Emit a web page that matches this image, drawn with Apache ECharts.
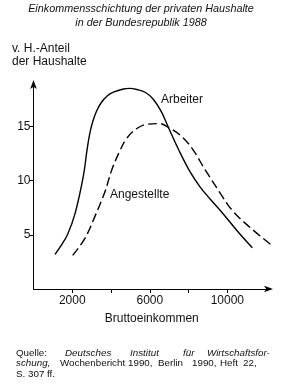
<!DOCTYPE html>
<html><head><meta charset="utf-8">
<script src="https://cdn.jsdelivr.net/npm/echarts@6/dist/echarts.min.js"></script>
<style>html,body{margin:0;padding:0;background:#fff}#c{width:282px;height:391px}</style>
</head><body><div id="c"></div>
<script>
const titleLines = ["Einkommensschichtung der privaten Haushalte", "in der Bundesrepublik 1988"];
const yAxisTitle = ["v. H.-Anteil", "der Haushalte"];
const xAxisTitle = "Bruttoeinkommen";
const xTickValues = [2000, 4000, 6000, 8000, 10000];
const xLabelValues = [2000, 6000, 10000];
const yTickValues = [5, 10, 15];
const seriesNames = ["Arbeiter", "Angestellte"];
const arbeiterIncome = [1110, 1420, 1750, 2150, 2570, 2760, 2900, 3050, 3250, 3500, 3800, 4120, 4635, 4950, 5330, 5800, 6180, 6580, 6960, 7500, 8080, 8600, 9110, 9800, 10490, 11290];
const arbeiterShare  = [3.2, 4.0, 5.0, 7.0, 10.4, 12.8, 14.3, 15.4, 16.4, 17.2, 17.8, 18.15, 18.45, 18.5, 18.4, 18.1, 17.5, 16.4, 14.9, 12.8, 10.8, 9.4, 8.3, 6.9, 5.4, 3.8];
const angestellteIncome = [2020, 2660, 3170, 3690, 4040, 4470, 4810, 5330, 5880, 6500, 6960, 7560, 8170, 8850, 9630, 10230, 11090, 12240];
const angestellteShare  = [3.1, 4.7, 6.7, 9.0, 11.0, 12.8, 13.9, 14.8, 15.2, 15.25, 14.9, 14.2, 13.0, 11.0, 8.85, 7.3, 5.8, 4.1];
const sourceLines = [
  [["Quelle:", false], ["Deutsches", true], ["Institut", true], ["für", true], ["Wirtschaftsfor-", true]],
  [["schung,", true], ["Wochenbericht", false], ["1990,", false], ["Berlin", false], ["1990,", false], ["Heft", false], ["22,", false]],
  [["S. 307 ff.", false]]
];

const FONT = "Liberation Sans, Arial, sans-serif";
const ink = "#111";
const chart = echarts.init(document.getElementById('c'), null, {renderer: 'canvas'});

function zip(a, b) { return a.map((v, i) => [v, b[i]]); }

const srcX = [
  [16, 65, 130, 183, 207],
  [16, 60, 128, 158, 192, 220, 243],
  [16]
];
const srcY = [353, 363.5, 374];

const graphics = [];
titleLines.forEach((t, i) => graphics.push({
  type: 'text', left: 'center', top: [3, 17][i],
  style: {text: t, font: 'italic 10.8px ' + FONT, fill: ink}
}));
yAxisTitle.forEach((t, i) => graphics.push({
  type: 'text', left: 12, top: [43, 56][i],
  style: {text: t, font: '12px ' + FONT, fill: ink}
}));
graphics.push({type: 'text', left: 161, top: 94, style: {text: seriesNames[0], font: '12px ' + FONT, fill: ink}});
graphics.push({type: 'text', left: 110, top: 189, style: {text: seriesNames[1], font: '12px ' + FONT, fill: ink}});
sourceLines.forEach((line, li) => line.forEach((w, wi) => graphics.push({
  type: 'text', x: srcX[li][wi], y: srcY[li],
  style: {text: w[0], font: (w[1] ? 'italic ' : '') + '9.8px ' + FONT, fill: ink, verticalAlign: 'middle'}
})));

chart.setOption({
  animation: false,
  backgroundColor: '#fff',
  grid: {left: 33.5, right: 12, top: 83, bottom: 102, containLabel: false},
  xAxis: {
    type: 'value', min: 0, max: 12200,
    name: xAxisTitle, nameLocation: 'middle', nameGap: 24,
    nameTextStyle: {fontFamily: FONT, fontSize: 12, color: ink},
    axisLine: {lineStyle: {color: '#000', width: 1}, symbol: ['none', 'arrow'], symbolSize: [5, 9], symbolOffset: [0, 3]},
    axisTick: {show: true, length: 4, customValues: xTickValues, lineStyle: {color: '#000'}},
    axisLabel: {customValues: xLabelValues, margin: 6, fontFamily: FONT, fontSize: 12, color: ink,
                formatter: v => String(v)},
    splitLine: {show: false}
  },
  yAxis: {
    type: 'value', min: 0, max: 19,
    axisLine: {show: true, lineStyle: {color: '#000', width: 1}, symbol: ['none', 'arrow'], symbolSize: [5, 9], symbolOffset: [0, 3]},
    axisTick: {show: true, length: 4, customValues: yTickValues, lineStyle: {color: '#000'}},
    axisLabel: {customValues: yTickValues, margin: 3, fontFamily: FONT, fontSize: 12, color: ink,
                formatter: v => String(v)},
    splitLine: {show: false}
  },
  series: [
    {name: seriesNames[0], type: 'line', data: zip(arbeiterIncome, arbeiterShare), smooth: 0.4,
     showSymbol: false, lineStyle: {color: '#000', width: 1.4}},
    {name: seriesNames[1], type: 'line', data: zip(angestellteIncome, angestellteShare), smooth: 0.4,
     showSymbol: false, lineStyle: {color: '#000', width: 1.4, type: [9, 4]}}
  ],
  graphic: graphics
});
</script></body></html>
